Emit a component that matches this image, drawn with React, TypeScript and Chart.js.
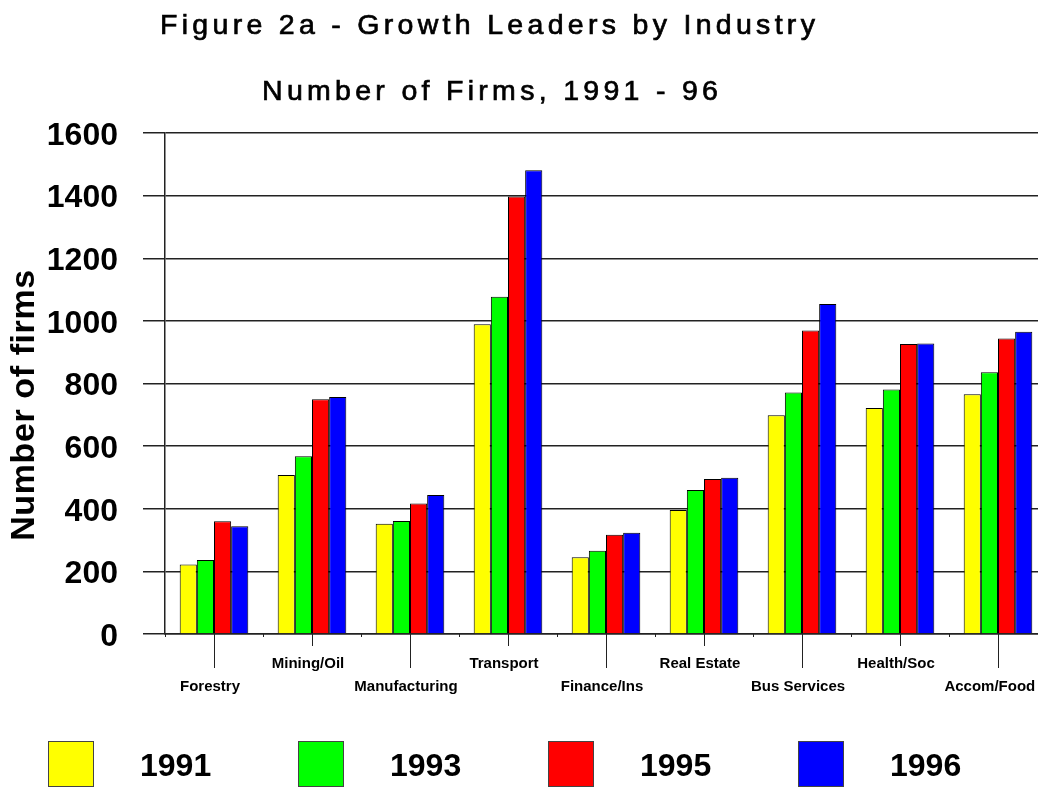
import React, { useEffect, useRef } from 'react';
import { Chart, registerables } from 'chart.js';

Chart.register(...registerables);

const categories = ['Forestry', 'Mining/Oil', 'Manufacturing', 'Transport', 'Finance/Ins', 'Real Estate', 'Bus Services', 'Health/Soc', 'Accom/Food'];
const years = ['1991', '1993', '1995', '1996'];
const values1991 = [222, 508, 352, 989, 245, 396, 699, 722, 766];
const values1993 = [236, 568, 361, 1077, 266, 460, 771, 781, 836];
const values1995 = [360, 750, 417, 1397, 317, 495, 969, 926, 944];
const values1996 = [344, 757, 444, 1481, 323, 499, 1054, 928, 965];
const seriesColors = ['#FFFF00', '#00FF00', '#FF0000', '#0000FF'];
const yTicks = [0, 200, 400, 600, 800, 1000, 1200, 1400, 1600];
const titleText = 'Figure 2a - Growth Leaders by Industry';
const subtitleText = 'Number of Firms, 1991 - 96';
const yTitleText = 'Number of firms';

const FONT = '"Liberation Sans", Arial, Helvetica, sans-serif';

const decorPlugin = {
  id: 'decor',
  afterDraw(chart: any) {
    const ctx = chart.ctx as CanvasRenderingContext2D;
    const xs = chart.scales.x;
    const area = chart.chartArea;
    ctx.save();
    // tick marks on x axis (staggered lengths)
    ctx.strokeStyle = '#222';
    ctx.lineWidth = 1;
    const half = (xs.getPixelForValue(1) - xs.getPixelForValue(0)) / 2;
    categories.forEach((_, i) => {
      const x = Math.round(xs.getPixelForValue(i)) + 0.5;
      ctx.beginPath();
      ctx.moveTo(x, area.bottom);
      ctx.lineTo(x, area.bottom + (i % 2 === 0 ? 34 : 12));
      ctx.stroke();
      const bx = Math.round(xs.getPixelForValue(i) - half) + 0.5;
      ctx.beginPath();
      ctx.moveTo(bx, area.bottom);
      ctx.lineTo(bx, area.bottom + 3);
      ctx.stroke();
    });

    // titles
    ctx.fillStyle = '#000';
    ctx.strokeStyle = '#000';
    ctx.lineWidth = 0.7;
    ctx.textAlign = 'left';
    ctx.textBaseline = 'alphabetic';
    (ctx as any).letterSpacing = '4.3px';
    ctx.font = `normal 28.5px ${FONT}`;
    ctx.fillText(titleText, 160, 34);
    ctx.strokeText(titleText, 160, 34);
    ctx.fillText(subtitleText, 262, 100);
    ctx.strokeText(subtitleText, 262, 100);
    (ctx as any).letterSpacing = '0.6px';

    // y axis title
    ctx.save();
    ctx.translate(25, 405);
    ctx.rotate(-Math.PI / 2);
    ctx.textAlign = 'center';
    ctx.textBaseline = 'middle';
    ctx.font = `bold 34px ${FONT}`;
    ctx.fillText(yTitleText, 0, 0);
    ctx.restore();

    // legend
    (ctx as any).letterSpacing = '0px';
    chart.data.datasets.forEach((ds: any, i: number) => {
      const x0 = 48 + i * 250;
      ctx.fillStyle = ds.backgroundColor;
      ctx.fillRect(x0, 741, 45, 45);
      ctx.strokeStyle = '#444';
      ctx.lineWidth = 1;
      ctx.strokeRect(x0 + 0.5, 741.5, 45, 45);
      ctx.fillStyle = '#000';
      ctx.font = `bold 32px ${FONT}`;
      ctx.textAlign = 'left';
      ctx.textBaseline = 'middle';
      ctx.fillText(ds.label, x0 + 92, 767);
    });
    ctx.restore();
  },
};

export default function App() {
  const ref = useRef<HTMLCanvasElement | null>(null);
  useEffect(() => {
    document.body.style.overflow = 'hidden';
    const canvas = ref.current!;
    const series = [values1991, values1993, values1995, values1996];
    const chart = new Chart(canvas, {
      type: 'bar',
      data: {
        labels: categories,
        datasets: years.map((y, i) => ({
          label: y,
          data: series[i],
          backgroundColor: seriesColors[i],
          borderColor: '#000',
          borderWidth: 1,
          barPercentage: 1.0,
          categoryPercentage: 0.7,
        })),
      },
      options: {
        responsive: false,
        animation: false,
        layout: { padding: { top: 133, left: 0, right: 3, bottom: 0 } },
        plugins: {
          legend: { display: false },
          title: { display: false },
          tooltip: { enabled: false },
        },
        scales: {
          x: {
            grid: { display: false, drawTicks: false },
            border: { display: true, color: '#222', width: 1.5 },
            ticks: {
              autoSkip: false,
              maxRotation: 0,
              minRotation: 0,
              padding: 18,
              labelOffset: -4,
              color: '#000',
              font: { family: FONT, size: 15, weight: 'bold', lineHeight: 1.53 },
              callback: (_v: any, i: number) => {
                const t = i === categories.length - 1 ? categories[i] + '  ' : categories[i];
                return i % 2 === 0 ? ['', t] : [t];
              },
            },
            afterFit: (scale: any) => {
              scale.height = 153;
              scale.paddingLeft = 0;
              scale.paddingRight = 0;
            },
          },
          y: {
            min: 0,
            max: 1600,
            afterBuildTicks: (scale: any) => {
              scale.ticks = yTicks.map((v) => ({ value: v }));
            },
            grid: { color: '#222', lineWidth: 1.5, tickLength: 22, drawTicks: true },
            border: { display: true, color: '#222', width: 1.5 },
            ticks: {
              padding: 25,
              labelOffset: 3,
              color: '#000',
              font: { family: FONT, size: 32, weight: 'bold' },
              callback: (v: any) => String(v),
            },
            afterFit: (scale: any) => {
              scale.width = 165;
              scale.paddingTop = 0;
              scale.paddingBottom = 0;
            },
          },
        },
      },
      plugins: [decorPlugin],
    });
    return () => chart.destroy();
  }, []);
  return (
    <div style={{ position: 'fixed', left: 0, top: 0, width: 1050, height: 787, background: '#fff', overflow: 'hidden' }}>
      <canvas ref={ref} width={1050} height={787} style={{ display: 'block' }} />
    </div>
  );
}
